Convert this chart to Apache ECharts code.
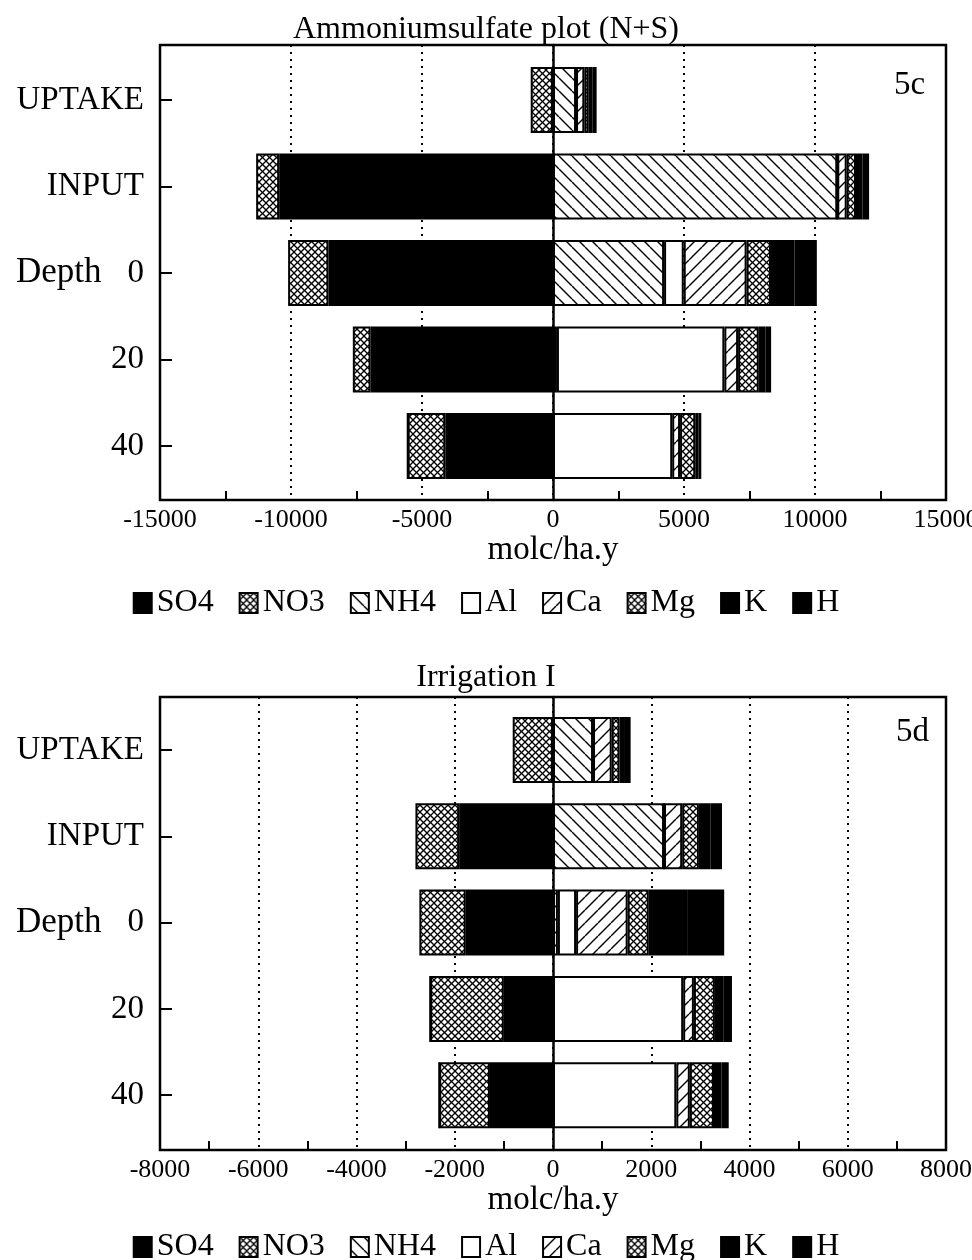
<!DOCTYPE html>
<html>
<head>
<meta charset="utf-8">
<script src="https://cdn.jsdelivr.net/npm/echarts@6/dist/echarts.min.js"></script>
<style>
  html, body { margin: 0; padding: 0; background: #fff; }
  #chart { width: 972px; height: 1260px; }
</style>
</head>
<body>
<div id="chart"></div>
<script>
// Rows of both panels (top to bottom)
const categories = ['UPTAKE', 'INPUT', '0', '20', '40'];
const ions = ['SO4', 'NO3', 'NH4', 'Al', 'Ca', 'Mg', 'K', 'H'];

// Panel 5c: Ammoniumsulfate plot (N+S), molc/ha.y (anions negative)
const so4_5c = [0, -10450, -8570, -6960, -4110];
const no3_5c = [-850, -880, -1540, -680, -1435];
const nh4_5c = [880, 10850, 4240, 150, 0];
const al_5c  = [0, 0, 750, 6390, 4550];
const ca_5c  = [315, 360, 2400, 525, 300];
const mg_5c  = [170, 355, 930, 790, 580];
const k_5c   = [150, 250, 900, 250, 120];
const h_5c   = [150, 250, 850, 220, 110];

// Panel 5d: Irrigation I, molc/ha.y
const so4_5d = [0, -1910, -1775, -1000, -1283];
const no3_5d = [-820, -890, -945, -1500, -1033];
const nh4_5d = [815, 2260, 100, 0, 0];
const al_5d  = [0, 0, 370, 2650, 2510];
const ca_5d  = [380, 370, 1050, 218, 275];
const mg_5d  = [160, 340, 430, 428, 492];
const k_5d   = [110, 240, 780, 180, 150];
const h_5d   = [115, 230, 755, 167, 150];

const FONT = 'Liberation Serif';

// Hatch tiles for the patterned segments
function hatch(kind, size, lw) {
  const c = document.createElement('canvas');
  c.width = c.height = size;
  const g = c.getContext('2d');
  g.fillStyle = '#fff';
  g.fillRect(0, 0, size, size);
  g.strokeStyle = '#000';
  g.lineWidth = lw;
  const back = () => [-size, 0, size].forEach(o => {
    g.beginPath(); g.moveTo(o, 0); g.lineTo(o + size, size); g.stroke();
  });
  const fwd = () => [-size, 0, size].forEach(o => {
    g.beginPath(); g.moveTo(o, size); g.lineTo(o + size, 0); g.stroke();
  });
  if (kind === 'back' || kind === 'cross') back();
  if (kind === 'fwd' || kind === 'cross') fwd();
  return { image: c, repeat: 'repeat' };
}

const fills = {
  SO4: '#000',
  NO3: hatch('cross', 7, 1.3),
  NH4: hatch('back', 13, 1.4),
  Al: '#fff',
  Ca: hatch('fwd', 13, 1.4),
  Mg: hatch('cross', 7, 1.3),
  K: '#000',
  H: '#000'
};

function panelSeries(cols, axisIndex, stack) {
  return ions.map((name, i) => ({
    name,
    type: 'bar',
    stack,
    xAxisIndex: axisIndex,
    yAxisIndex: axisIndex,
    data: cols[i],
    barWidth: 66,
    itemStyle: { color: fills[name], borderColor: '#000', borderWidth: 2 },
    emphasis: { disabled: true }
  }));
}

const labelStyle = { fontFamily: FONT, color: '#000', fontWeight: 'normal' };

function frameX(gridIndex, lim, step) {
  return {
    gridIndex, type: 'value', min: -lim, max: lim, interval: step,
    axisLine: { show: false, onZero: false },
    axisTick: { show: false, inside: true },
    minorTick: { show: true, splitNumber: 2, length: 9, lineStyle: { color: '#000', width: 2 } },
    splitLine: { show: true, lineStyle: { color: '#000', width: 2, type: [2, 5] } },
    axisLabel: { ...labelStyle, fontSize: 26, margin: 7, formatter: v => String(v) },
    name: 'molc/ha.y', nameLocation: 'middle', nameGap: 34,
    nameTextStyle: { ...labelStyle, fontSize: 33 }
  };
}
function barsX(gridIndex, lim) {
  return { gridIndex, type: 'value', min: -lim, max: lim, show: false };
}
function frameY(gridIndex) {
  return {
    gridIndex, type: 'value', min: 0, max: 1,
    axisLine: { show: true, onZero: true, lineStyle: { color: '#000', width: 2.5 } },
    axisTick: { show: false }, axisLabel: { show: false }, splitLine: { show: false }
  };
}
function barsY(gridIndex) {
  return {
    gridIndex, type: 'category', data: categories, inverse: true,
    axisLine: { show: false, onZero: false },
    axisTick: { show: true, inside: true, alignWithLabel: true, length: 12, lineStyle: { color: '#000', width: 2 } },
    axisLabel: {
      ...labelStyle, fontSize: 33, margin: 16,
      formatter: v => v === '0' ? '{d|Depth}{g|}0' : v,
      rich: { d: { ...labelStyle, fontSize: 35 }, g: { width: 26 } }
    }
  };
}

const titleStyle = { ...labelStyle, fontSize: 32 };
const legendBase = {
  data: ions, left: 'center', icon: 'rect', itemWidth: 18, itemHeight: 20, itemGap: 25,
  textStyle: { ...labelStyle, fontSize: 32 }, selectedMode: false
};

const option = {
  animation: false,
  backgroundColor: '#fff',
  title: [
    { text: 'Ammoniumsulfate plot (N+S)', left: 'center', top: 9, textStyle: titleStyle },
    { text: '5c', left: 889, top: 64, textStyle: { ...labelStyle, fontSize: 33 } },
    { text: 'Irrigation I', left: 'center', top: 657, textStyle: titleStyle },
    { text: '5d', left: 891, top: 711, textStyle: { ...labelStyle, fontSize: 33 } }
  ],
  legend: [
    { ...legendBase, top: 582 },
    { ...legendBase, top: 1226 }
  ],
  grid: [
    { left: 160, top: 45, width: 786, height: 455, show: true, borderColor: '#000', borderWidth: 2.5, backgroundColor: 'transparent', outerBoundsMode: 'none' },
    { left: 160, top: 56.75, width: 786, height: 432.5, outerBoundsMode: 'none' },
    { left: 160, top: 697, width: 786, height: 453, show: true, borderColor: '#000', borderWidth: 2.5, backgroundColor: 'transparent', outerBoundsMode: 'none' },
    { left: 160, top: 706.85, width: 786, height: 431.5, outerBoundsMode: 'none' }
  ],
  xAxis: [frameX(0, 15000, 5000), barsX(1, 15000), frameX(2, 8000, 2000), barsX(3, 8000)],
  yAxis: [frameY(0), barsY(1), frameY(2), barsY(3)],
  series: [
    ...panelSeries([so4_5c, no3_5c, nh4_5c, al_5c, ca_5c, mg_5c, k_5c, h_5c], 1, 'c'),
    ...panelSeries([so4_5d, no3_5d, nh4_5d, al_5d, ca_5d, mg_5d, k_5d, h_5d], 3, 'd')
  ]
};

const chart = echarts.init(document.getElementById('chart'), null, { renderer: 'canvas' });
chart.setOption(option);
</script>
</body>
</html>
